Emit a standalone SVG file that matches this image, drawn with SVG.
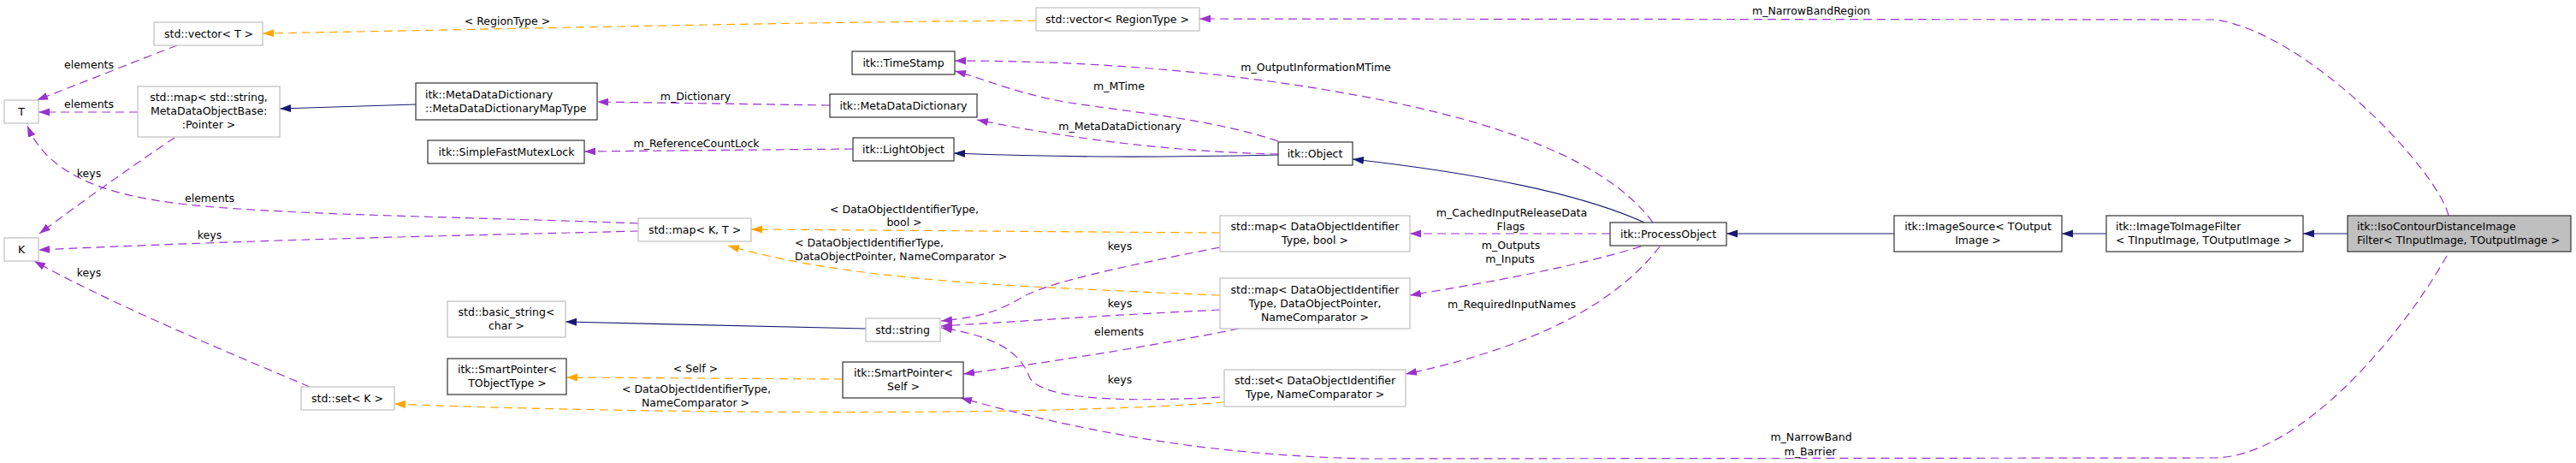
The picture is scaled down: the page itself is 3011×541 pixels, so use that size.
<svg xmlns="http://www.w3.org/2000/svg" width="3011" height="541" viewBox="0 0 3011 541">
<style>
text{font-family:"DejaVu Sans","Liberation Sans",sans-serif;font-size:12.5px;fill:#000}
.m{text-anchor:middle}
.s{text-anchor:start}
rect{fill:#fff;stroke-width:1.2}
.u{stroke:#bfbfbf}
.d{stroke:#333}
.hl{fill:#bfbfbf;stroke:#333}
path{fill:none;stroke-width:1.2}
.p{stroke:#9a32cd;stroke-dasharray:10,6;marker-end:url(#ap)}
.o{stroke:#ffa500;stroke-dasharray:10,6;marker-end:url(#ao)}
.b{stroke:#191970;marker-end:url(#ab)}
</style>
<defs>
<marker id="ap" markerUnits="userSpaceOnUse" markerWidth="14" markerHeight="10" refX="13" refY="4.5" orient="auto"><path d="M0,0 L13,4.5 L0,9 z" style="fill:#9a32cd;stroke:none"/></marker>
<marker id="ao" markerUnits="userSpaceOnUse" markerWidth="14" markerHeight="10" refX="13" refY="4.5" orient="auto"><path d="M0,0 L13,4.5 L0,9 z" style="fill:#ffa500;stroke:none"/></marker>
<marker id="ab" markerUnits="userSpaceOnUse" markerWidth="14" markerHeight="10" refX="13" refY="4.5" orient="auto"><path d="M0,0 L13,4.5 L0,9 z" style="fill:#191970;stroke:none"/></marker>
</defs>
<rect x="0" y="0" width="3011" height="541" style="fill:#fff;stroke:none"/>
<g id="connectors">
<path class="b" d="M486,122 L327,127"/>
<path class="b" d="M1012,384 L661,376"/>
<path class="b" d="M1494,181 C1350,184 1250,184 1115,179"/>
<path class="b" d="M1922,260 C1860,232 1750,205 1581,186"/>
<path class="b" d="M2214,273 L2018,273"/>
<path class="b" d="M2462,273 L2410,273"/>
<path class="b" d="M2744,273 L2692,273"/>
<path class="o" d="M1211,24 C900,26 600,34 307,39"/>
<path class="o" d="M1426,272 C1250,271 1050,269 878,268"/>
<path class="o" d="M1426,345 C1200,335 1000,330 851,287"/>
<path class="o" d="M1431,470 C1200,488 700,482 461,472"/>
<path class="o" d="M985,443 L662,441"/>
<path class="p" d="M207,53 C160,71 90,99 43,117"/>
<path class="p" d="M161,131 L45,131"/>
<path class="p" d="M204,161 C160,190 90,240 46,273"/>
<path class="p" d="M746,261 C560,254 380,252 250,242 C150,234 60,215 32,147"/>
<path class="p" d="M746,270 C600,274 350,278 45,292"/>
<path class="p" d="M362,452 C250,405 120,350 40,305"/>
<path class="p" d="M1932,260 C1880,190 1760,140 1550,105 C1400,80 1250,71 1116,71"/>
<path class="p" d="M1494,165 C1420,140 1330,132 1250,120 C1190,110 1150,92 1116,83"/>
<path class="p" d="M1494,180 C1400,178 1280,168 1142,140"/>
<path class="p" d="M970,123 L698,119"/>
<path class="p" d="M997,174 L683,177"/>
<path class="p" d="M2862,252 C2850,200 2700,40 2590,23 L1402,22"/>
<path class="p" d="M2860,299 C2806,394 2687,535 2587,535 L1600,536 C1400,532 1250,500 1123,465"/>
<path class="p" d="M1882,273 L1648,273"/>
<path class="p" d="M1918,288 C1840,312 1740,330 1648,345"/>
<path class="p" d="M1940,288 C1900,340 1820,400 1643,437"/>
<path class="p" d="M1426,289 C1320,310 1220,330 1190,350 C1160,368 1130,372 1100,375"/>
<path class="p" d="M1426,362 C1300,368 1200,375 1100,381"/>
<path class="p" d="M1448,384 C1350,404 1220,424 1126,437"/>
<path class="p" d="M1426,464 C1320,470 1215,468 1203,440 C1192,410 1160,392 1100,383"/>
<text class="m" x="593" y="29">&lt; RegionType &gt;</text>
<text class="m" x="2117" y="17">m_NarrowBandRegion</text>
<text class="m" x="1538" y="83">m_OutputInformationMTime</text>
<text class="m" x="1308" y="105">m_MTime</text>
<text class="m" x="1309" y="152">m_MetaDataDictionary</text>
<text class="m" x="813" y="117">m_Dictionary</text>
<text class="m" x="814" y="172">m_ReferenceCountLock</text>
<text class="m" x="104" y="80">elements</text>
<text class="m" x="104" y="126">elements</text>
<text class="m" x="104" y="207">keys</text>
<text class="m" x="245" y="236">elements</text>
<text class="m" x="245" y="279">keys</text>
<text class="m" x="104" y="323">keys</text>
<text class="m" x="1057" y="249">&lt; DataObjectIdentifierType,</text>
<text class="m" x="1057" y="264">bool &gt;</text>
<text class="s" x="929" y="288">&lt; DataObjectIdentifierType,</text>
<text class="s" x="929" y="304">DataObjectPointer, NameComparator &gt;</text>
<text class="m" x="813" y="435">&lt; Self &gt;</text>
<text class="m" x="814" y="459">&lt; DataObjectIdentifierType,</text>
<text class="m" x="813" y="475">NameComparator &gt;</text>
<text class="m" x="1767" y="253">m_CachedInputReleaseData</text>
<text class="m" x="1766" y="269">Flags</text>
<text class="m" x="1766" y="291">m_Outputs</text>
<text class="m" x="1765" y="307">m_Inputs</text>
<text class="m" x="1767" y="360">m_RequiredInputNames</text>
<text class="m" x="1309" y="292">keys</text>
<text class="m" x="1309" y="359">keys</text>
<text class="m" x="1308" y="392">elements</text>
<text class="m" x="1309" y="448">keys</text>
<text class="m" x="2117" y="515">m_NarrowBand</text>
<text class="m" x="2116" y="532">m_Barrier</text>
</g>
<g id="n_vectorT"><rect class="u" x="180" y="26" width="127" height="27"/><text class="m" x="244" y="44">std::vector&lt; T &gt;</text></g>
<g id="n_T"><rect class="u" x="5" y="117" width="40" height="27"/><text class="m" x="25" y="135">T</text></g>
<g id="n_mapString"><rect class="u" x="161" y="101" width="166" height="59"/><text class="m" x="244" y="118">std::map&lt; std::string,</text><text class="m" x="244" y="134">MetaDataObjectBase:</text><text class="m" x="244" y="150">:Pointer &gt;</text></g>
<g id="n_mapType"><rect class="d" x="486" y="97" width="212" height="43"/><text class="s" x="497" y="115">itk::MetaDataDictionary</text><text class="s" x="497" y="131">::MetaDataDictionaryMapType</text></g>
<g id="n_mutex"><rect class="d" x="500" y="164" width="183" height="27"/><text class="m" x="592" y="182">itk::SimpleFastMutexLock</text></g>
<g id="n_K"><rect class="u" x="5" y="278" width="40" height="27"/><text class="m" x="25" y="296">K</text></g>
<g id="n_setK"><rect class="u" x="352" y="452" width="109" height="27"/><text class="m" x="406" y="470">std::set&lt; K &gt;</text></g>
<g id="n_mapKT"><rect class="u" x="746" y="255" width="132" height="27"/><text class="m" x="812" y="273">std::map&lt; K, T &gt;</text></g>
<g id="n_basicString"><rect class="u" x="523" y="352" width="138" height="42"/><text class="m" x="592" y="369">std::basic_string&lt;</text><text class="m" x="592" y="385">char &gt;</text></g>
<g id="n_spT"><rect class="d" x="523" y="419" width="139" height="42"/><text class="m" x="593" y="436">itk::SmartPointer&lt;</text><text class="m" x="593" y="452">TObjectType &gt;</text></g>
<g id="n_string"><rect class="u" x="1012" y="372" width="87" height="27"/><text class="m" x="1055" y="390">std::string</text></g>
<g id="n_spSelf"><rect class="d" x="985" y="423" width="141" height="42"/><text class="m" x="1056" y="440">itk::SmartPointer&lt;</text><text class="m" x="1056" y="456">Self &gt;</text></g>
<g id="n_timeStamp"><rect class="d" x="996" y="60" width="120" height="27"/><text class="m" x="1056" y="78">itk::TimeStamp</text></g>
<g id="n_mdd"><rect class="d" x="970" y="110" width="172" height="27"/><text class="m" x="1056" y="128">itk::MetaDataDictionary</text></g>
<g id="n_light"><rect class="d" x="997" y="161" width="118" height="27"/><text class="m" x="1056" y="179">itk::LightObject</text></g>
<g id="n_vectorRegion"><rect class="u" x="1211" y="9" width="191" height="27"/><text class="m" x="1306" y="27">std::vector&lt; RegionType &gt;</text></g>
<g id="n_object"><rect class="d" x="1494" y="166" width="87" height="27"/><text class="m" x="1537" y="184">itk::Object</text></g>
<g id="n_mapBool"><rect class="u" x="1426" y="252" width="222" height="42"/><text class="m" x="1537" y="269">std::map&lt; DataObjectIdentifier</text><text class="m" x="1537" y="285">Type, bool &gt;</text></g>
<g id="n_mapPtr"><rect class="u" x="1426" y="325" width="222" height="59"/><text class="m" x="1537" y="343">std::map&lt; DataObjectIdentifier</text><text class="m" x="1537" y="359">Type, DataObjectPointer,</text><text class="m" x="1537" y="375">NameComparator &gt;</text></g>
<g id="n_setDOI"><rect class="u" x="1431" y="432" width="212" height="43"/><text class="m" x="1537" y="449">std::set&lt; DataObjectIdentifier</text><text class="m" x="1537" y="465">Type, NameComparator &gt;</text></g>
<g id="n_process"><rect class="d" x="1882" y="260" width="136" height="27"/><text class="m" x="1950" y="278">itk::ProcessObject</text></g>
<g id="n_imageSource"><rect class="d" x="2214" y="252" width="196" height="42"/><text class="m" x="2312" y="269">itk::ImageSource&lt; TOutput</text><text class="m" x="2312" y="285">Image &gt;</text></g>
<g id="n_i2i"><rect class="d" x="2462" y="252" width="230" height="42"/><text class="s" x="2473" y="269">itk::ImageToImageFilter</text><text class="s" x="2473" y="285">&lt; TInputImage, TOutputImage &gt;</text></g>
<g id="n_iso"><rect class="hl" x="2744" y="252" width="261" height="42"/><text class="s" x="2755" y="269">itk::IsoContourDistanceImage</text><text class="s" x="2755" y="285">Filter&lt; TInputImage, TOutputImage &gt;</text></g>
</svg>
